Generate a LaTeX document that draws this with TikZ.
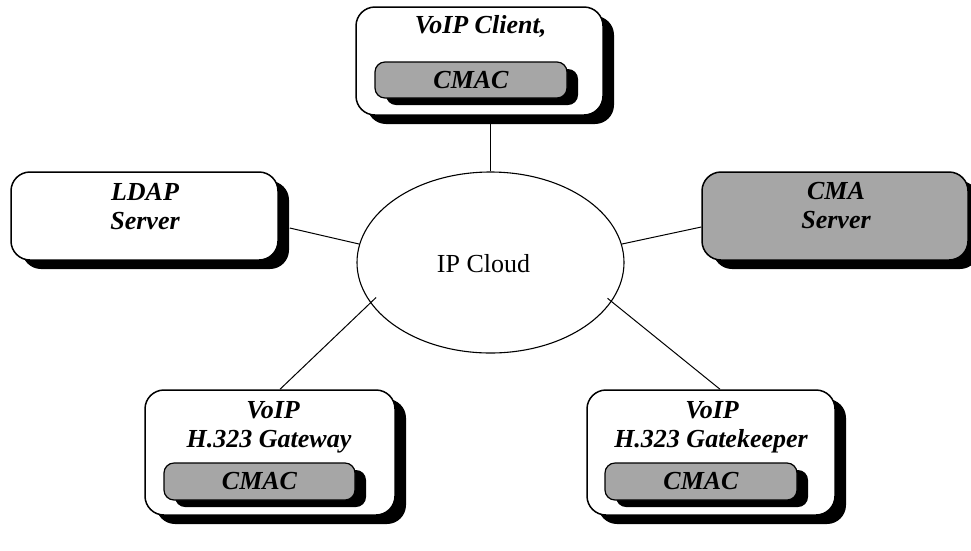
\documentclass[tikz,border=0pt]{standalone}
\usepackage{fontspec}
\setmainfont{Liberation Serif}
\usetikzlibrary{shapes.geometric,shadows,calc}
\definecolor{boxgray}{RGB}{166,166,166}
\tikzset{
  box/.style={rectangle, draw, line width=1.5pt, rounded corners=19pt, fill=white,
    inner sep=0pt,
    drop shadow={shadow xshift=11pt, shadow yshift=-9pt, fill=black, opacity=1}},
  modbox/.style={rectangle, draw, line width=1.2pt, rounded corners=10pt, fill=boxgray,
    inner sep=0pt, font=\fontsize{26}{29}\selectfont\bfseries\itshape,
    drop shadow={shadow xshift=11pt, shadow yshift=-7pt, fill=black, opacity=1}},
  title/.style={anchor=base, inner sep=0pt, font=\fontsize{26}{29}\selectfont\bfseries\itshape},
  plain/.style={anchor=base, inner sep=0pt, font=\fontsize{26}{29}\selectfont},
  conn/.style={line width=1pt}
}
\begin{document}
\begin{tikzpicture}[x=1pt,y=-1pt]
\useasboundingbox (0,0) rectangle (971,550);

% central network
\node[ellipse, draw, line width=1.1pt, minimum width=267pt, minimum height=181pt,
      inner sep=0pt] (cloud) at (490.5,262.5) {};
\node[plain] (cloudtxt) at (483.5,272) {IP Cloud};

% VoIP client
\node[box, minimum width=247pt, minimum height=108pt] (client) at (479.5,61) {};
\node[title] (clienttxt) at (480.5,33) {VoIP Client,};
\node[modbox, minimum width=192pt, minimum height=36pt] (clientcmac) at (471,80) {CMAC};

% LDAP server
\node[box, minimum width=267pt, minimum height=88pt] (ldap) at (144.5,216) {};
\node[title] (ldaptxt1) at (145,200) {LDAP};
\node[title] (ldaptxt2) at (145,229) {Server};

% CMA server
\node[box, fill=boxgray, minimum width=266pt, minimum height=88pt] (cma) at (835,216) {};
\node[title] (cmatxt1) at (836,199) {CMA};
\node[title] (cmatxt2) at (836,228) {Server};

% H.323 gateway
\node[box, minimum width=250pt, minimum height=125pt] (gw) at (270,452.5) {};
\node[title] (gwtxt1) at (273,418) {VoIP};
\node[title] (gwtxt2) at (269,447) {H.323 Gateway};
\node[modbox, minimum width=191pt, minimum height=37pt] (gwcmac) at (259.5,481.5) {CMAC};

% H.323 gatekeeper
\node[box, minimum width=248pt, minimum height=125pt] (gk) at (711,452.5) {};
\node[title] (gktxt1) at (712,418) {VoIP};
\node[title] (gktxt2) at (711,447) {H.323 Gatekeeper};
\node[modbox, minimum width=192pt, minimum height=37pt] (gkcmac) at (701,481.5) {CMAC};

% links to the cloud
\draw[conn] (cloud.north) -- ($(cloud.north |- client.south)+(0,8)$);
\draw[conn] (cloud.172) -- ($(ldap.east)+(11,12)$);
\draw[conn] (cloud.8) -- ($(cma.west)+(0,11)$);
\draw[conn] ($(cloud.center)!0.936!(cloud.197)$) -- ($(gw.north)+(10,0)$);
\draw[conn] ($(cloud.center)!0.957!(cloud.343)$) -- ($(gk.north)+(9,0)$);
\end{tikzpicture}
\end{document}
